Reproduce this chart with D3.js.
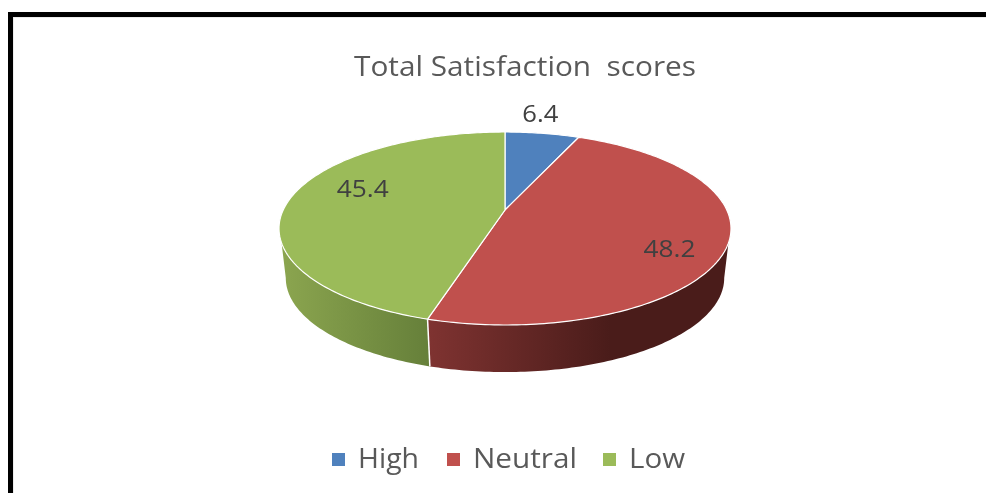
<!DOCTYPE html>
<html>
<head>
<meta charset="utf-8">
<script src="https://cdn.jsdelivr.net/npm/d3@7"></script>
<style>
  html, body { margin: 0; padding: 0; background: #fff; overflow: hidden; }
  svg { display: block; }
  text { font-family: 'Open Sans', sans-serif; }
  .soft { filter: blur(0.45px); }
  .title { fill: #595959; font-size: 27px; }
  .label { fill: #404040; font-size: 24px; text-anchor: middle; }
  .legend-text { fill: #595959; font-size: 28px; }
</style>
</head>
<body>
<svg id="chart"></svg>
<script>
// data
const categories = ['High', 'Neutral', 'Low'];
const scores = [6.4, 48.2, 45.4];
const chartTitle = 'Total Satisfaction\u00a0 scores';

// colours
const topColors = ['#4f81bd', '#c0504d', '#9bbb59'];
const wallStops = [
  ['#3a5f8c', '#3a5f8c'],
  ['#7f3331', '#4a1c1a'],
  ['#8ba54f', '#66803a'],
];

// dimension stuff
const WIDTH = 986;
const HEIGHT = 493;

// pie is a flat disc seen in perspective, apex is not the middle of the ellipse
const CX = 505;
const APEX_Y = 210;
const RADIUS = 221.8;
const FLATTEN = 92.95;
const PERSPECTIVE = 0.1917;
const ELLIPSE_Y = 228.5;
const WALL_Y = 278;
const WALL_SCALE_X = 0.97;
const WALL_SCALE_Y = 0.975;
const RAD = Math.PI / 180;
// where the wall leaves the rim and where it lands on the lower ellipse, from 12 o'clock
const RIM_ANGLE = 109.4 * RAD;
const FOOT_ANGLE = 101 * RAD;
const TAU = Math.PI * 2;

function project(angle, r = 1) {
  const u = Math.sin(angle) * r;
  const v = -Math.cos(angle) * r;
  const w = 1 / (1 - PERSPECTIVE * v);
  return [CX + RADIUS * u * w, APEX_Y + FLATTEN * v * w];
}

function lower([x, y]) {
  return [CX + (x - CX) * WALL_SCALE_X, WALL_Y + (y - ELLIPSE_Y) * WALL_SCALE_Y];
}

function sampleArc(a0, a1) {
  const n = Math.max(2, Math.ceil(Math.abs(a1 - a0) * 60));
  return d3.range(n + 1).map(i => project(a0 + ((a1 - a0) * i) / n));
}

const pie = d3.pie().sort(null);
const slices = pie(scores);
const seamAngle = slices[1].endAngle;
const line = d3.line();

const $svg = d3.select('#chart').attr('width', WIDTH).attr('height', HEIGHT);
const $defs = $svg.append('defs');

// frame, runs off the right and the bottom
$svg.append('rect').attr('x', 13).attr('y', 17).attr('width', WIDTH).attr('height', HEIGHT).attr('fill', 'none').attr('stroke', '#e6e6e6').attr('stroke-width', 1.5);
$svg.append('rect').attr('x', 8).attr('y', 12).attr('width', 5).attr('height', HEIGHT).attr('fill', '#000');
$svg.append('rect').attr('x', 8).attr('y', 12).attr('width', WIDTH).attr('height', 5).attr('fill', '#000');

const $soft = $svg.append('g').attr('class', 'soft');

$soft.append('text')
  .attr('class', 'title')
  .attr('x', 354)
  .attr('y', 76)
  .attr('textLength', 342)
  .attr('lengthAdjust', 'spacingAndGlyphs')
  .text(chartTitle);

// side walls first, the top covers whatever is behind it
const wallParts = [
  { slice: 1, rim: [RIM_ANGLE, seamAngle], foot: [seamAngle, FOOT_ANGLE], x1: 428, x2: 610 },
  { slice: 2, rim: [TAU - RIM_ANGLE, seamAngle], foot: [seamAngle, TAU - FOOT_ANGLE], x1: 282, x2: 428 },
];

const $walls = $soft.append('g').attr('class', 'g-walls');
wallParts.forEach(part => {
  const id = `wall-${part.slice}`;
  const grad = $defs.append('linearGradient')
    .attr('id', id)
    .attr('gradientUnits', 'userSpaceOnUse')
    .attr('x1', part.x1)
    .attr('x2', part.x2)
    .attr('y1', 0)
    .attr('y2', 0);
  grad.append('stop').attr('offset', 0).attr('stop-color', wallStops[part.slice][0]);
  grad.append('stop').attr('offset', 1).attr('stop-color', wallStops[part.slice][1]);

  const outline = sampleArc(...part.rim).concat(sampleArc(...part.foot).map(lower));
  $walls.append('path')
    .attr('d', `${line(outline)}Z`)
    .attr('fill', `url(#${id})`);
});

// seam between the two visible walls
$walls.append('path')
  .attr('d', line([project(seamAngle), lower(project(seamAngle))]))
  .attr('stroke', '#fff')
  .attr('stroke-width', 1.5)
  .attr('fill', 'none');

// top of the disc
$soft.append('g')
  .attr('class', 'g-top')
  .selectAll('path')
  .data(slices)
  .join('path')
  .attr('d', d => `${line([[CX, APEX_Y], ...sampleArc(d.startAngle, d.endAngle)])}Z`)
  .attr('fill', (d, i) => topColors[i])
  .attr('stroke', '#fff')
  .attr('stroke-width', 1.2)
  .attr('stroke-linejoin', 'round');

// data labels: radial fraction plus a nudge
const labelPlace = [
  { r: 1.3, dx: -11, dy: 0, w: 36 },
  { r: 0.75, dx: 0, dy: 15, w: 52 },
  { r: 0.66, dx: 0, dy: -12, w: 52 },
];
const LABEL_BASELINE = 7.5;

$soft.append('g')
  .attr('class', 'g-labels')
  .selectAll('text')
  .data(slices)
  .join('text')
  .attr('class', 'label')
  .attr('x', (d, i) => project((d.startAngle + d.endAngle) / 2, labelPlace[i].r)[0] + labelPlace[i].dx)
  .attr('y', (d, i) => project((d.startAngle + d.endAngle) / 2, labelPlace[i].r)[1] + labelPlace[i].dy + LABEL_BASELINE)
  .attr('textLength', (d, i) => labelPlace[i].w)
  .attr('lengthAdjust', 'spacingAndGlyphs')
  .text(d => d.value);

// legend
const legendSwatchX = [332, 447, 603];
const legendTextX = [358, 473, 629];
const legendTextW = [61, 104, 56];

const $legend = $soft.append('g')
  .attr('class', 'g-legend')
  .selectAll('g')
  .data(categories)
  .join('g');

$legend.append('rect')
  .attr('x', (d, i) => legendSwatchX[i])
  .attr('y', 453)
  .attr('width', 13)
  .attr('height', 13)
  .attr('fill', (d, i) => topColors[i]);

$legend.append('text')
  .attr('class', 'legend-text')
  .attr('x', (d, i) => legendTextX[i])
  .attr('y', 468)
  .attr('textLength', (d, i) => legendTextW[i])
  .attr('lengthAdjust', 'spacingAndGlyphs')
  .text(d => d);
</script>
</body>
</html>
